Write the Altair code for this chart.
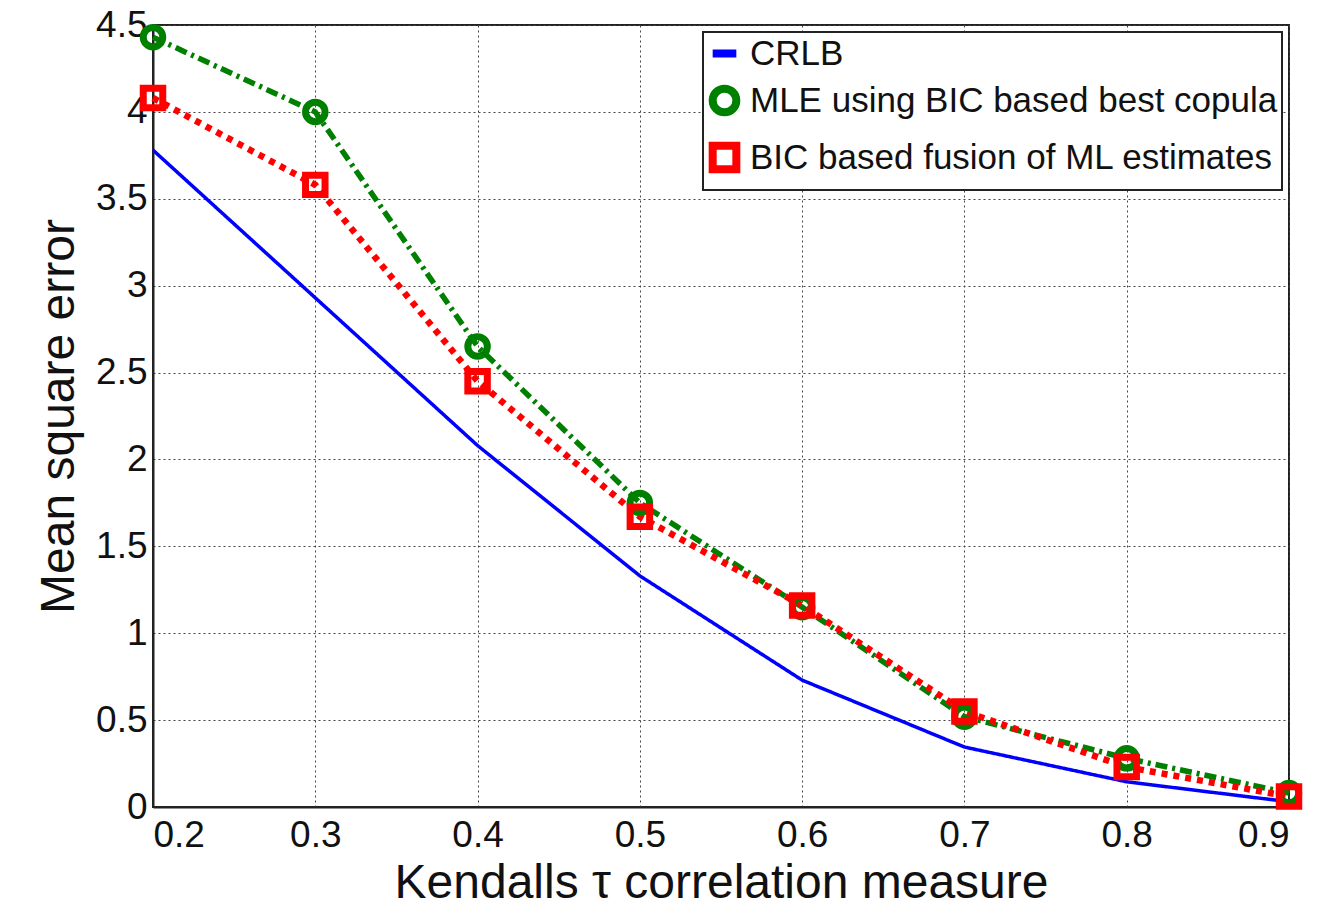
import altair as alt
import pandas as pd

# ---- data ----
tau = [0.2, 0.3, 0.4, 0.5, 0.6, 0.7, 0.8, 0.9]
crlb = [3.78, 2.93, 2.08, 1.33, 0.73, 0.345, 0.145, 0.03]
mle_best = [4.43, 4.00, 2.65, 1.75, 1.15, 0.52, 0.28, 0.08]
bic_fusion = [4.08, 3.58, 2.45, 1.67, 1.16, 0.55, 0.23, 0.06]

series_names = ["CRLB", "MLE using BIC based best copula", "BIC based fusion of ML estimates"]
series_colors = ["#0000ff", "#008000", "#ff0000"]
series_dash = [[1, 0], [12, 5, 3, 5], [6, 6]]
series_width = [3.5, 5.5, 6.5]
series_shape = ["stroke", "circle", "square"]

x_ticks = [0.2, 0.3, 0.4, 0.5, 0.6, 0.7, 0.8, 0.9]
y_ticks = [0, 0.5, 1, 1.5, 2, 2.5, 3, 3.5, 4, 4.5]

rows = []
for name, vals in zip(series_names, [crlb, mle_best, bic_fusion]):
    for t, v in zip(tau, vals):
        rows.append({"tau": t, "mse": v, "series": name})
df = pd.DataFrame(rows)

FONT = "Liberation Sans"

x_enc = alt.X("tau:Q",
              scale=alt.Scale(domain=[0.2, 0.9], nice=False, zero=False),
              axis=alt.Axis(values=x_ticks, format=".1f", title="Kendalls τ correlation measure"))
y_enc = alt.Y("mse:Q",
              scale=alt.Scale(domain=[0, 4.5], nice=False),
              axis=alt.Axis(values=y_ticks, format="~g", title="Mean square error"))

color_scale = alt.Scale(domain=series_names, range=series_colors)
shared_legend = alt.Legend(title=None, orient="top-right", symbolSize=560, symbolStrokeWidth=8)

line_layers = []
for name, dash, width in zip(series_names, series_dash, series_width):
    line_layers.append(
        alt.Chart(df).transform_filter(alt.datum.series == name)
        .mark_line(strokeCap="butt", strokeDash=dash, strokeWidth=width)
        .encode(
            x=x_enc,
            y=y_enc,
            color=alt.Color("series:N", scale=color_scale, legend=shared_legend),
            order=alt.Order("tau:Q"),
        )
    )

points = alt.Chart(df).transform_filter(
    alt.datum.series != "CRLB"
).mark_point(filled=False, strokeWidth=7, size=380, opacity=1).encode(
    x=x_enc,
    y=y_enc,
    color=alt.Color("series:N", scale=color_scale, legend=shared_legend),
    shape=alt.Shape("series:N", scale=alt.Scale(domain=series_names, range=series_shape),
                    legend=shared_legend),
)

chart = alt.layer(*line_layers, points).properties(
    width=1136,
    height=782,
    autosize=alt.AutoSizeParams(type="none"),
    padding={"left": 145, "top": 17, "right": 20, "bottom": 100},
).configure_view(
    stroke="#222", strokeWidth=2
).configure_axis(
    labelFont=FONT, titleFont=FONT,
    labelFontSize=37, titleFontSize=48,
    labelColor="#111", titleColor="#111",
    titleFontWeight="normal",
    domainColor="#222", domainWidth=2,
    ticks=False, labelPadding=6,
    grid=True, gridColor="#444", gridDash=[2, 3], gridWidth=1,
).configure_axisX(
    titlePadding=6, labelPadding=10,
).configure_axisY(
    titlePadding=12,
).configure_legend(
    labelFont=FONT, labelFontSize=35, labelColor="#111", labelLimit=0,
    strokeColor="#222", strokeWidth=2, fillColor="white", padding=4, cornerRadius=0,
    rowPadding=0, offset=7, labelOffset=8,
)

chart.save("out.html", embed_options={"renderer": "svg", "actions": False})
